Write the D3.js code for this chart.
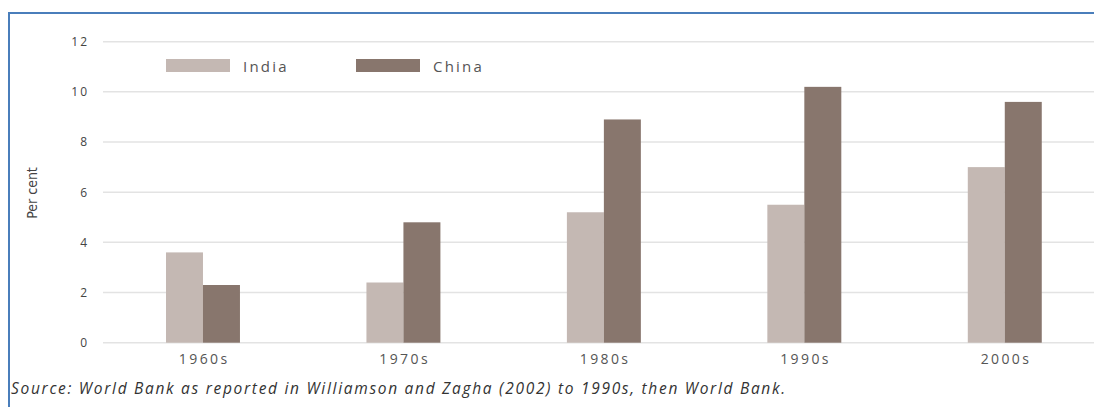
<!DOCTYPE html>
<html>
<head>
<meta charset="utf-8">
<script src="https://cdn.jsdelivr.net/npm/d3@7"></script>
<style>
  html, body { margin: 0; padding: 0; background: #fff; }
  svg { display: block; }
</style>
</head>
<body>
<svg id="chart" width="1094" height="407"></svg>
<script>
// Decade categories and average annual GDP growth (per cent)
const decades = ["1960s", "1970s", "1980s", "1990s", "2000s"];
const seriesNames = ["India", "China"];
const india = [3.6, 2.4, 5.2, 5.5, 7.0];
const china = [2.3, 4.8, 8.9, 10.2, 9.6];
const yTicks = [0, 2, 4, 6, 8, 10, 12];
const colors = ["#c4b8b3", "#88766d"];
const sourceText = "Source: World Bank as reported in Williamson and Zagha (2002) to 1990s, then World Bank.";

const svg = d3.select("#chart");
const W = 1094, H = 407;
const FONT = "'Open Sans', 'DejaVu Sans', sans-serif";

// Frame lines (top and left)
svg.append("line").attr("x1", 9).attr("x2", W).attr("y1", 13).attr("y2", 13)
  .attr("stroke", "#4a7ebb").attr("stroke-width", 2);
svg.append("line").attr("x1", 9).attr("x2", 9).attr("y1", 12).attr("y2", H)
  .attr("stroke", "#4a7ebb").attr("stroke-width", 2);

const y = d3.scaleLinear().domain([0, 12]).range([342.7, 41.7]);
const x0 = d3.scaleBand().domain(decades).range([102.75, 1105])
  .paddingInner(0.631).paddingOuter(0.3155);
const x1 = d3.scaleBand().domain(seriesNames).range([0, x0.bandwidth()]);

// Horizontal gridlines
svg.append("g").selectAll("line").data(yTicks).join("line")
  .attr("x1", 103).attr("x2", W)
  .attr("y1", d => y(d)).attr("y2", d => y(d))
  .attr("stroke", "#e3e3e3").attr("stroke-width", 1.5);

// Y axis labels
const yAxis = svg.append("g").attr("transform", "translate(89,0)")
  .call(d3.axisLeft(y).tickValues(yTicks).tickSize(0).tickPadding(0));
yAxis.select(".domain").remove();
yAxis.selectAll("text")
  .attr("font-family", FONT).attr("font-size", 12).attr("fill", "#444")
  .attr("letter-spacing", 2);

// Y axis title
svg.append("text")
  .attr("transform", "translate(37,193) rotate(-90)")
  .attr("text-anchor", "middle")
  .attr("font-family", "'Liberation Sans Narrow', 'DejaVu Sans Condensed', sans-serif")
  .attr("font-size", 14).attr("fill", "#444")
  .text("Per cent");

// Bars
const rows = decades.map((d, i) => ({ decade: d, values: [india[i], china[i]] }));
const groups = svg.append("g").selectAll("g").data(rows).join("g")
  .attr("transform", d => `translate(${x0(d.decade)},0)`);
groups.selectAll("rect").data(d => d.values.map((v, j) => ({ name: seriesNames[j], v, j })))
  .join("rect")
  .attr("x", d => x1(d.name))
  .attr("width", x1.bandwidth())
  .attr("y", d => y(d.v))
  .attr("height", d => y(0) - y(d.v))
  .attr("fill", d => colors[d.j]);

// X axis labels
const xAxis = svg.append("g").attr("transform", "translate(1.2,0)")
  .call(d3.axisBottom(x0).tickSize(0).tickPadding(0));
xAxis.select(".domain").remove();
xAxis.selectAll("text")
  .attr("font-family", FONT).attr("font-size", 14).attr("fill", "#555")
  .attr("letter-spacing", 2.4).attr("dy", null).attr("y", 364);

// Legend
const legendX = [166, 356];
const legend = svg.append("g").selectAll("g").data(seriesNames).join("g")
  .attr("transform", (d, i) => `translate(${legendX[i]},59)`);
legend.append("rect").attr("width", 64).attr("height", 13)
  .attr("fill", (d, i) => colors[i]);
legend.append("text").attr("x", 77).attr("y", 12.5)
  .attr("font-family", FONT)
  .attr("font-size", 15).attr("fill", "#555").attr("letter-spacing", 2.2)
  .text(d => d);

// Source note
svg.append("text").attr("x", 11).attr("y", 394)
  .attr("font-family", FONT)
  .attr("font-style", "italic").attr("font-size", 15.5).attr("fill", "#333")
  .attr("letter-spacing", 1.7)
  .text(sourceText);
</script>
</body>
</html>
